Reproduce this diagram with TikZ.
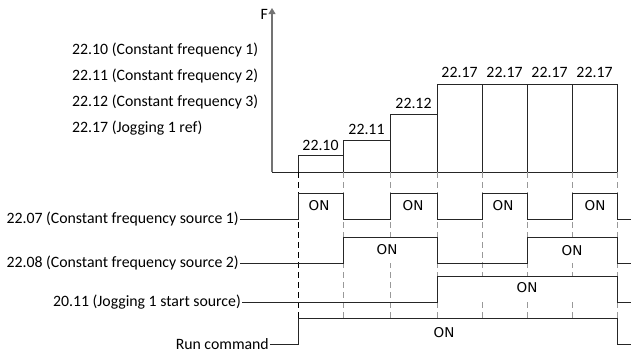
\documentclass[tikz,border=0pt]{standalone}
\usepackage{fontspec}
\setmainfont{Carlito}
\newfontfamily\onfont{DejaVu Sans}
\usetikzlibrary{arrows.meta, positioning}

\begin{document}
\begin{tikzpicture}[x=1pt, y=-1pt, >=Triangle,
    txt/.style={font=\fontsize{15.8}{19}\selectfont, inner sep=1pt},
    onlbl/.style={font=\onfont\fontsize{13.5}{15}\selectfont, inner sep=0pt},
    wave/.style={line width=1pt, black!85},
    pulse/.style={fill=white},
    guide/.style={line width=0.9pt, dash pattern=on 6pt off 4pt}]

    % 时间点与各电平
    \def\yAx{172}   % 频率轴
    \def\tEnd{631}  % 右端
    \useasboundingbox (0,0) rectangle (631,353);

    % 1. 坐标轴
    \coordinate (org) at (272,\yAx);
    \coordinate (ftop) at (272,8);
    \draw[line width=1.2pt, black!55, ->] (org) -- (ftop);
    \node[txt, left=3pt] (F) at (272,14) {F};
    \draw[wave] (org) -- (617,\yAx);

    % 2. 频率台阶
    \draw[wave] (298,\yAx) rectangle (343,155);
    \draw[wave] (343,\yAx) rectangle (390,140);
    \draw[wave] (390,\yAx) rectangle (437,114);
    \foreach \a/\b in {437/482, 482/527, 527/572, 572/617}
        \draw[wave] (\a,\yAx) rectangle (\b,84);
    \node[txt] (s10) at (320.5,145) {22.10};
    \node[txt] (s11) at (366.5,129) {22.11};
    \node[txt] (s12) at (413.5,103) {22.12};
    \foreach \a/\b in {437/482, 482/527, 527/572, 572/617}
        \node[txt] at ({(\a+\b)/2},72) {22.17};

    % 左侧说明
    \node[txt, anchor=west] (p10) at (71,50) {22.10 (Constant frequency 1)};
    \node[txt, anchor=west] (p11) at (71,76) {22.11 (Constant frequency 2)};
    \node[txt, anchor=west] (p12) at (71,102) {22.12 (Constant frequency 3)};
    \node[txt, anchor=west] (p17) at (71,128) {22.17 (Jogging 1 ref)};

    % 3. 辅助虚线
    \draw[guide, black] (298,\yAx) -- (298,318);
    \foreach \x in {343,390,437,482,527,572}
        \draw[guide, black!40] (\x,\yAx) -- (\x,318);
    \draw[guide, black!40] (617,\yAx) -- (617,344);

    % 高电平区域遮住虚线
    \foreach \a/\b in {298/343, 390/437, 482/527, 572/617}
        \fill[pulse] (\a,193) rectangle (\b,219);
    \fill[pulse] (343,237) rectangle (437,263);
    \fill[pulse] (527,237) rectangle (617,263);
    \fill[pulse] (437,276) rectangle (617,302);
    \fill[pulse] (298,318) rectangle (617,344);

    % 4. 信号
    \node[txt, anchor=east] (r1) at (240,219) {22.07 (Constant frequency source 1)};
    \node[txt, anchor=east] (r2) at (240,263) {22.08 (Constant frequency source 2)};
    \node[txt, anchor=east] (r3) at (242,302) {20.11 (Jogging 1 start source)};
    \node[txt, anchor=east] (r4) at (270,344) {Run command};

    \draw[wave] (r1.east) -- (298,219) -- (298,193) -- (343,193) -- (343,219)
        -- (390,219) -- (390,193) -- (437,193) -- (437,219)
        -- (482,219) -- (482,193) -- (527,193) -- (527,219)
        -- (572,219) -- (572,193) -- (617,193) -- (617,219) -- (\tEnd,219);
    \draw[wave] (r2.east) -- (343,263) -- (343,237) -- (437,237) -- (437,263)
        -- (527,263) -- (527,237) -- (617,237) -- (617,263) -- (\tEnd,263);
    \draw[wave] (r3.east) -- (437,302) -- (437,276) -- (617,276) -- (617,302) -- (\tEnd,302);
    \draw[wave] (r4.east) -- (298,344) -- (298,318) -- (617,318) -- (617,344) -- (\tEnd,344);

    \foreach \x in {319, 413, 503, 595}
        \node[onlbl] at (\x,206) {ON};
    \node[onlbl] at (387,250) {ON};
    \node[onlbl] at (572,251) {ON};
    \node[onlbl] at (527,288) {ON};
    \node[onlbl] at (444,333) {ON};

\end{tikzpicture}
\end{document}
